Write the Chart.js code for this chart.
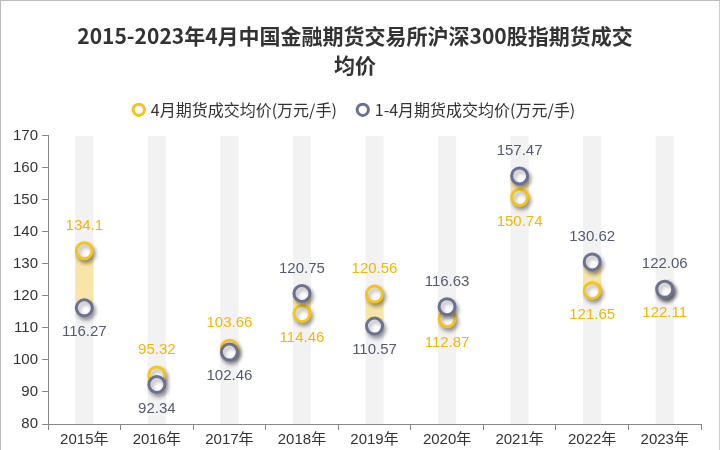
<!DOCTYPE html>
<html>
<head>
<meta charset="utf-8">
<script src="https://cdn.jsdelivr.net/npm/chart.js@4"></script>
<style>
  html, body { margin: 0; padding: 0; background: #fff; }
  #wrap { position: relative; width: 720px; height: 450px; box-sizing: border-box; border-left: 1px solid #bbb; border-top: 1px solid #bbb; border-right: 1px solid #ccc; }
</style>
</head>
<body>
<div id="wrap"><canvas id="myChart" width="718" height="449"></canvas></div>
<script>
// 年份与两组均价（万元/手）
const years = ['2015年', '2016年', '2017年', '2018年', '2019年', '2020年', '2021年', '2022年', '2023年'];
const aprilAvg = [134.1, 95.32, 103.66, 114.46, 120.56, 112.87, 150.74, 121.65, 122.11];
const janAprAvg = [116.27, 92.34, 102.46, 120.75, 110.57, 116.63, 157.47, 130.62, 122.06];
const yMin = 80;
const yMax = 170;

const yellow = '#f6c21c';
const slate = '#6b7194';

// 两点之间的区间带
const rangeBand = aprilAvg.map((v, i) => [Math.min(v, janAprAvg[i]), Math.max(v, janAprAvg[i])]);
const bgBand = years.map(() => [yMin, yMax]);

// 标签在上还是在下（数值差很小时蓝点在上）
function yellowAbove(i) {
  return aprilAvg[i] - janAprAvg[i] > 0.1;
}

const labelPlugin = {
  id: 'valueLabels',
  afterDatasetsDraw(chart) {
    const ctx = chart.ctx;
    ctx.save();
    ctx.font = '15px "Liberation Sans", Arial, sans-serif';
    ctx.textAlign = 'center';
    ctx.textBaseline = 'middle';
    [2, 3].forEach(di => {
      const meta = chart.getDatasetMeta(di);
      const isYellow = di === 2;
      ctx.fillStyle = isYellow ? '#f2b705' : '#555a73';
      meta.data.forEach((pt, i) => {
        const above = isYellow ? yellowAbove(i) : !yellowAbove(i);
        const val = isYellow ? aprilAvg[i] : janAprAvg[i];
        const y = above ? pt.y - 25 : pt.y + 24;
        ctx.fillText(String(val), pt.x, y);
      });
    });
    ctx.restore();
  }
};

const shadowPlugin = {
  id: 'pointShadow',
  beforeDatasetDraw(chart, args) {
    if (args.index >= 2) {
      chart.ctx.save();
      chart.ctx.shadowColor = 'rgba(0,0,0,0.35)';
      chart.ctx.shadowBlur = 4;
      chart.ctx.shadowOffsetX = 2;
      chart.ctx.shadowOffsetY = 3;
    }
  },
  afterDatasetDraw(chart, args) {
    if (args.index >= 2) chart.ctx.restore();
  }
};

// 图例下方多留一点空白
const legendGap = {
  id: 'legendGap',
  beforeInit(chart) {
    const fit = chart.legend.fit;
    chart.legend.fit = function () {
      fit.call(this);
      this.height += 8;
    };
  }
};

const config = {
  type: 'bar',
  data: {
    labels: years,
    datasets: [
      {
        label: 'bg',
        data: bgBand,
        backgroundColor: '#f2f2f2',
        categoryPercentage: 1,
        barPercentage: 0.25,
        grouped: false,
        order: 4
      },
      {
        label: 'range',
        data: rangeBand,
        backgroundColor: 'rgba(250,220,120,0.6)',
        categoryPercentage: 1,
        barPercentage: 0.25,
        grouped: false,
        order: 3
      },
      {
        type: 'line',
        label: '4月期货成交均价(万元/手)',
        data: aprilAvg,
        showLine: false,
        pointRadius: 8,
        pointBorderWidth: 3,
        borderColor: yellow,
        backgroundColor: '#fff',
        pointBackgroundColor: '#fff',
        order: 2
      },
      {
        type: 'line',
        label: '1-4月期货成交均价(万元/手)',
        data: janAprAvg,
        showLine: false,
        pointRadius: 8,
        pointBorderWidth: 3,
        borderColor: slate,
        backgroundColor: '#fff',
        pointBackgroundColor: '#fff',
        order: 1
      }
    ]
  },
  options: {
    responsive: false,
    animation: false,
    layout: { padding: { left: 8, right: 18, top: 14, bottom: 0 } },
    plugins: {
      title: {
        display: true,
        text: ['2015-2023年4月中国金融期货交易所沪深300股指期货成交', '均价'],
        color: '#333',
        font: { size: 21, weight: 'bold', family: '"Noto Sans CJK SC", sans-serif', lineHeight: 1.4 },
        padding: { top: 6, bottom: 0 }
      },
      legend: {
        labels: {
          filter: item => item.datasetIndex >= 2,
          sort: (a, b) => a.datasetIndex - b.datasetIndex,
          usePointStyle: true,
          pointStyle: 'circle',
          boxWidth: 8,
          boxHeight: 8,
          color: '#333',
          padding: 22,
          font: { size: 16, family: '"Noto Sans CJK SC", sans-serif' }
        }
      },
      tooltip: { enabled: false }
    },
    scales: {
      x: {
        grid: { display: true, drawOnChartArea: false, color: '#888', tickLength: 6, offset: true },
        border: { color: '#888' },
        ticks: { color: '#333', padding: 1, font: { size: 15, family: '"Liberation Sans", "Noto Sans CJK SC", sans-serif' } }
      },
      y: {
        min: yMin,
        max: yMax,
        ticks: { stepSize: 10, color: '#333', padding: 4, font: { size: 15, family: '"Liberation Sans", sans-serif' } },
        grid: { display: true, drawOnChartArea: false, color: '#888', tickLength: 6 },
        border: { color: '#888' }
      }
    }
  },
  plugins: [labelPlugin, shadowPlugin, legendGap]
};

var myChart = new Chart(document.getElementById('myChart'), config);
</script>
</body>
</html>
